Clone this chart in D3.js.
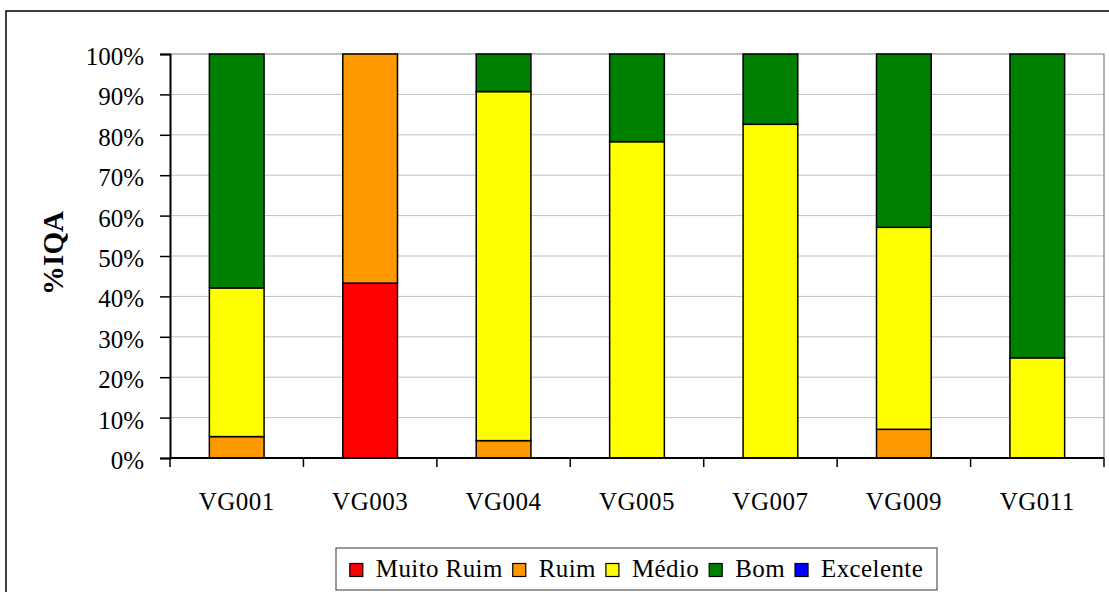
<!DOCTYPE html>
<html>
<head>
<meta charset="utf-8">
<script src="https://cdn.jsdelivr.net/npm/d3@7/dist/d3.min.js"></script>
<style>
  html, body { margin: 0; padding: 0; background: #fff; }
  svg { display: block; }
  svg text { font-family: "Liberation Serif", "Times New Roman", serif; }
</style>
</head>
<body>
<svg id="chart" width="1109" height="592"></svg>
<script>
// Sampling points along the stream
const categories = ["VG001", "VG003", "VG004", "VG005", "VG007", "VG009", "VG011"];

// IQA class shares per point (%)
const seriesNames = ["Muito Ruim", "Ruim", "Médio", "Bom", "Excelente"];
const muitoRuim = [0, 43.3, 0, 0, 0, 0, 0];
const ruim      = [5.3, 56.7, 4.3, 0, 0, 7.1, 0];
const medio     = [36.8, 0, 86.4, 78.3, 82.6, 50.0, 24.8];
const bom       = [57.9, 0, 9.3, 21.7, 17.4, 42.9, 75.2];
const excelente = [0, 0, 0, 0, 0, 0, 0];
const seriesColors = ["#ff0000", "#ff9900", "#ffff00", "#008000", "#0000ff"];

const yTicks = [0, 10, 20, 30, 40, 50, 60, 70, 80, 90, 100];
const yTitle = "%IQA";

const FONT = "Liberation Serif, Times New Roman, serif";

// Build table for d3.stack
const table = categories.map((c, i) => ({
  cat: c,
  "Muito Ruim": muitoRuim[i],
  "Ruim": ruim[i],
  "Médio": medio[i],
  "Bom": bom[i],
  "Excelente": excelente[i]
}));

const svg = d3.select("#chart");
const plot = { left: 170, right: 1104, top: 54, bottom: 458 };

// Outer chart frame
svg.append("rect")
  .attr("x", 6).attr("y", 11)
  .attr("width", 1120).attr("height", 600)
  .attr("fill", "#fff").attr("stroke", "#000").attr("stroke-width", 1.5);

const x = d3.scaleBand().domain(categories)
  .range([plot.left, plot.right]).paddingInner(0.59).paddingOuter(0.295);
const y = d3.scaleLinear().domain([0, 100]).range([plot.bottom, plot.top]);

// Gridlines
svg.append("g").selectAll("line").data(yTicks.filter(t => t > 0 && t < 100)).join("line")
  .attr("x1", plot.left).attr("x2", plot.right)
  .attr("y1", d => y(d)).attr("y2", d => y(d))
  .attr("stroke", "#c0c0c0").attr("stroke-width", 1);

// Plot-area border (top and right)
svg.append("path")
  .attr("d", `M${plot.left},${plot.top}H${plot.right}V${plot.bottom}`)
  .attr("fill", "none").attr("stroke", "#808080").attr("stroke-width", 1.2);

// Stacked bars
const stack = d3.stack().keys(seriesNames);
const layers = stack(table);
const color = d3.scaleOrdinal().domain(seriesNames).range(seriesColors);

svg.append("g").selectAll("g").data(layers).join("g")
  .attr("fill", d => color(d.key))
  .selectAll("rect").data(d => d.filter(s => s[1] - s[0] > 0)).join("rect")
  .attr("x", d => x(d.data.cat))
  .attr("width", x.bandwidth())
  .attr("y", d => y(d[1]))
  .attr("height", d => y(d[0]) - y(d[1]))
  .attr("stroke", "#000").attr("stroke-width", 1.5);

// Y axis
const yAxis = d3.axisLeft(y).tickValues(yTicks).tickFormat(d => d + "%")
  .tickSize(10).tickPadding(16);
const gy = svg.append("g").attr("transform", `translate(${plot.left},0)`).call(yAxis);
gy.attr("font-family", FONT).attr("font-size", 25);
gy.select(".domain").attr("stroke", "#000").attr("stroke-width", 2);
gy.selectAll(".tick line").attr("stroke", "#000").attr("stroke-width", 1.5);
gy.selectAll(".tick text").attr("fill", "#000").attr("dy", "0.42em");

// X axis: boundary ticks plus centered labels
const gx = svg.append("g").attr("font-family", FONT);
gx.append("line").attr("x1", plot.left).attr("x2", plot.right)
  .attr("y1", plot.bottom).attr("y2", plot.bottom)
  .attr("stroke", "#000").attr("stroke-width", 2);
const step = x.step();
const bounds = d3.range(categories.length + 1).map(i => plot.left + i * step);
gx.selectAll("line.tk").data(bounds).join("line").attr("class", "tk")
  .attr("x1", d => d).attr("x2", d => d)
  .attr("y1", plot.bottom).attr("y2", plot.bottom + 9)
  .attr("stroke", "#000").attr("stroke-width", 1.5);
gx.selectAll("text").data(categories).join("text")
  .attr("x", d => x(d) + x.bandwidth() / 2)
  .attr("y", 510)
  .attr("text-anchor", "middle")
  .attr("font-size", 25).attr("letter-spacing", 0.5).attr("fill", "#000")
  .text(d => d);

// Y title
svg.append("text")
  .attr("transform", `translate(63,253) rotate(-90)`)
  .attr("text-anchor", "middle")
  .attr("font-family", FONT)
  .attr("font-size", 29).attr("font-weight", "bold")
  .text(yTitle);

// Legend
const lg = svg.append("g").attr("font-family", FONT);
const lgBox = { x: 336, y: 548, w: 601, h: 42 };
lg.append("rect").attr("x", lgBox.x).attr("y", lgBox.y)
  .attr("width", lgBox.w).attr("height", lgBox.h)
  .attr("fill", "#fff").attr("stroke", "#555").attr("stroke-width", 1.2);
const items = lg.selectAll("g").data(seriesNames).join("g");
items.append("text").attr("font-size", 25).attr("letter-spacing", 0.4)
  .attr("fill", "#000").text(d => d);
const sw = 13, gapSw = 13, gapItem = 10;
const widths = [];
items.select("text").each(function () { widths.push(this.getComputedTextLength()); });
const total = d3.sum(widths) + seriesNames.length * (sw + gapSw) + (seriesNames.length - 1) * gapItem;
let cx = lgBox.x + (lgBox.w - total) / 2;
const cy = lgBox.y + lgBox.h / 2;
items.each(function (d, i) {
  const g = d3.select(this);
  g.insert("rect", "text").attr("x", cx).attr("y", cy - sw / 2 + 1)
    .attr("width", sw).attr("height", sw)
    .attr("fill", color(d)).attr("stroke", "#000").attr("stroke-width", 1.2);
  g.select("text").attr("x", cx + sw + gapSw).attr("y", cy + 8);
  cx += sw + gapSw + widths[i] + gapItem;
});
</script>
</body>
</html>
